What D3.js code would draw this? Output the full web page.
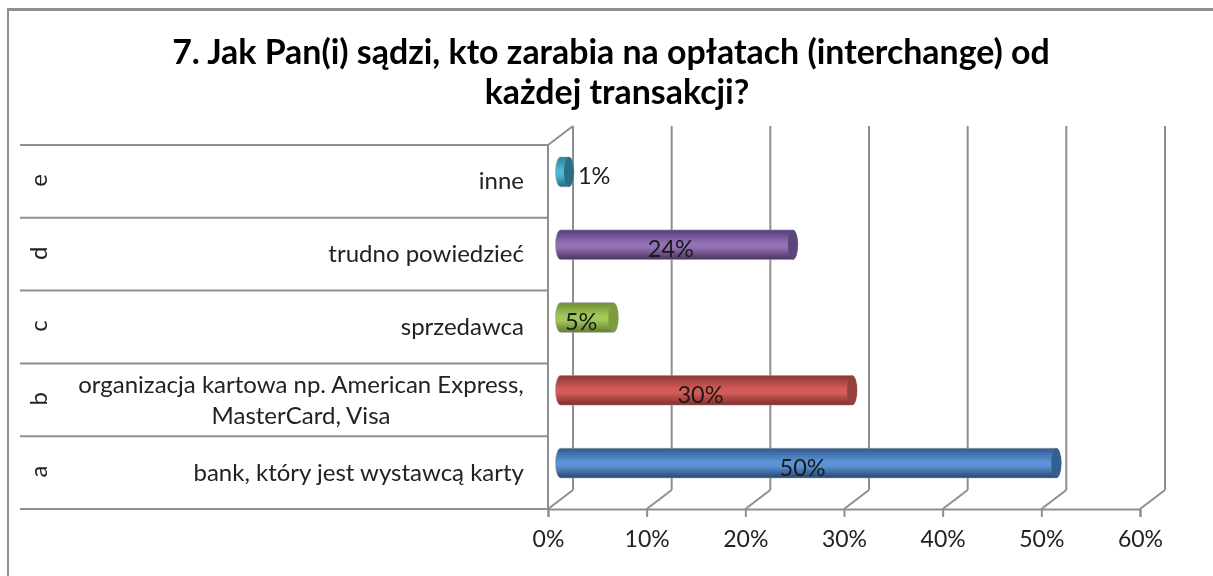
<!DOCTYPE html>
<html><head><meta charset="utf-8">
<script src="https://cdn.jsdelivr.net/npm/d3@7"></script>
<style>html,body{margin:0;background:#fff}svg{display:block;filter:blur(.35px)}text{font-family:Lato,"Open Sans",sans-serif}</style>
</head><body><svg width="1213" height="576"></svg>
<script>
const letters = ["e","d","c","b","a"];
const categories = ["inne","trudno powiedzieć","sprzedawca","organizacja kartowa np. American Express,|MasterCard, Visa","bank, który jest wystawcą karty"];
const values = [0.9,23.6,5.4,29.6,50.3];
const colors = [
 ["#2f7f96","#4fb9d6","#1f6c82","#2c6f85"],
 ["#53407a","#9470b4","#46345f","#5a4678"],
 ["#6f8f35","#a3c85a","#5f7d2a","#7c9c3e"],
 ["#8f3533","#d25c58","#7f2c2a","#96403c"],
 ["#31598f","#5a93d6","#26466f","#33608f"]];
const tickValues = [0,.1,.2,.3,.4,.5,.6];
const titleLines = ["7. Jak Pan(i) sądzi, kto zarabia na opłatach (interchange) od","każdej transakcji?"];

const grey="#8f8f8f", depthX=25, depthY=19;
const svg=d3.select("svg");
const x=d3.scaleLinear().domain([0,.6]).range([548,1140]);
const y=d3.scaleBand().domain(letters).range([145,509]);
const defs=svg.append("defs");
colors.forEach((c,i)=>{
  const g=defs.append("linearGradient").attr("id","g"+i).attr("x1",0).attr("x2",0).attr("y1",0).attr("y2",1);
  [[0,c[0]],[.45,c[1]],[.6,c[1]],[1,c[2]]].forEach(s=>g.append("stop").attr("offset",s[0]).attr("stop-color",s[1]));
});
const line=(a,b,c,d,w=2)=>svg.append("line").attr("x1",a).attr("y1",b).attr("x2",c).attr("y2",d).attr("stroke",grey).attr("stroke-width",w);
// frame
line(8,9.5,1213,9.5,3); line(8,8,8,576,2);
// back wall + depth lines
tickValues.forEach(t=>{
  line(x(t)+depthX,126,x(t)+depthX,509-depthY);
  line(x(t),509,x(t)+depthX,509-depthY);
});
line(548,145,548+depthX,126);
line(548,145,548,509);
// category rules
[...letters.map(l=>y(l)),509].forEach(p=>line(20,p,548,p));
// value axis
const ax=svg.append("g").attr("transform","translate(0,509)")
  .call(d3.axisBottom(x).tickValues(tickValues).tickFormat(d3.format(".0%")).tickSize(8).tickPadding(14));
ax.select(".domain").attr("stroke",grey).attr("stroke-width",2);
ax.selectAll("line").attr("stroke",grey).attr("stroke-width",2);
ax.selectAll("text").attr("font-size",23).attr("fill","#222");
// bars
const rx=5, hh=14.8, mid=depthX/2;
letters.forEach((l,i)=>{
  const cy=y(l)+y.bandwidth()/2-depthY/2, x0=x(0)+mid, x1=x(values[i]/100)+mid-.5;
  svg.append("path").attr("d",`M${x0},${cy-hh}L${x1},${cy-hh}A${rx},${hh} 0 0 1 ${x1},${cy+hh}L${x0},${cy+hh}A${rx},${hh} 0 0 1 ${x0},${cy-hh}Z`)
    .attr("fill",`url(#g${i})`).attr("stroke","#9a9a9a").attr("stroke-width",.6);
  svg.append("ellipse").attr("cx",x1).attr("cy",cy).attr("rx",rx).attr("ry",hh).attr("fill",colors[i][3]);
  const outside=values[i]<2;
  svg.append("text").attr("x",outside?x1+rx+4:x(values[i]/200)+6.5).attr("y",cy+12.5)
    .attr("text-anchor",outside?"start":"middle").attr("font-size",23.5).attr("fill","#1a1a1a").text(Math.round(values[i])+"%");
});
// category labels
letters.forEach((l,i)=>{
  const cy=y(l)+y.bandwidth()/2;
  svg.append("text").attr("transform",`translate(47,${cy-1}) rotate(-90)`).attr("text-anchor","middle").attr("font-size",24).attr("fill","#222").text(l);
  const parts=categories[i].split("|");
  parts.forEach((p,k)=>svg.append("text").attr("x",parts.length>1?301:524).attr("y",cy+8+(k-(parts.length-1)/2)*31+(parts.length>1?1:0))
    .attr("text-anchor",parts.length>1?"middle":"end").attr("font-size",24).attr("fill","#222").text(p));
});
// title
titleLines.forEach((t,k)=>svg.append("text").attr("x",k?617:611).attr("y",64+k*40).attr("text-anchor","middle")
  .attr("font-size",33.9).attr("font-weight",700).attr("fill","#000").text(t));
</script></body></html>
